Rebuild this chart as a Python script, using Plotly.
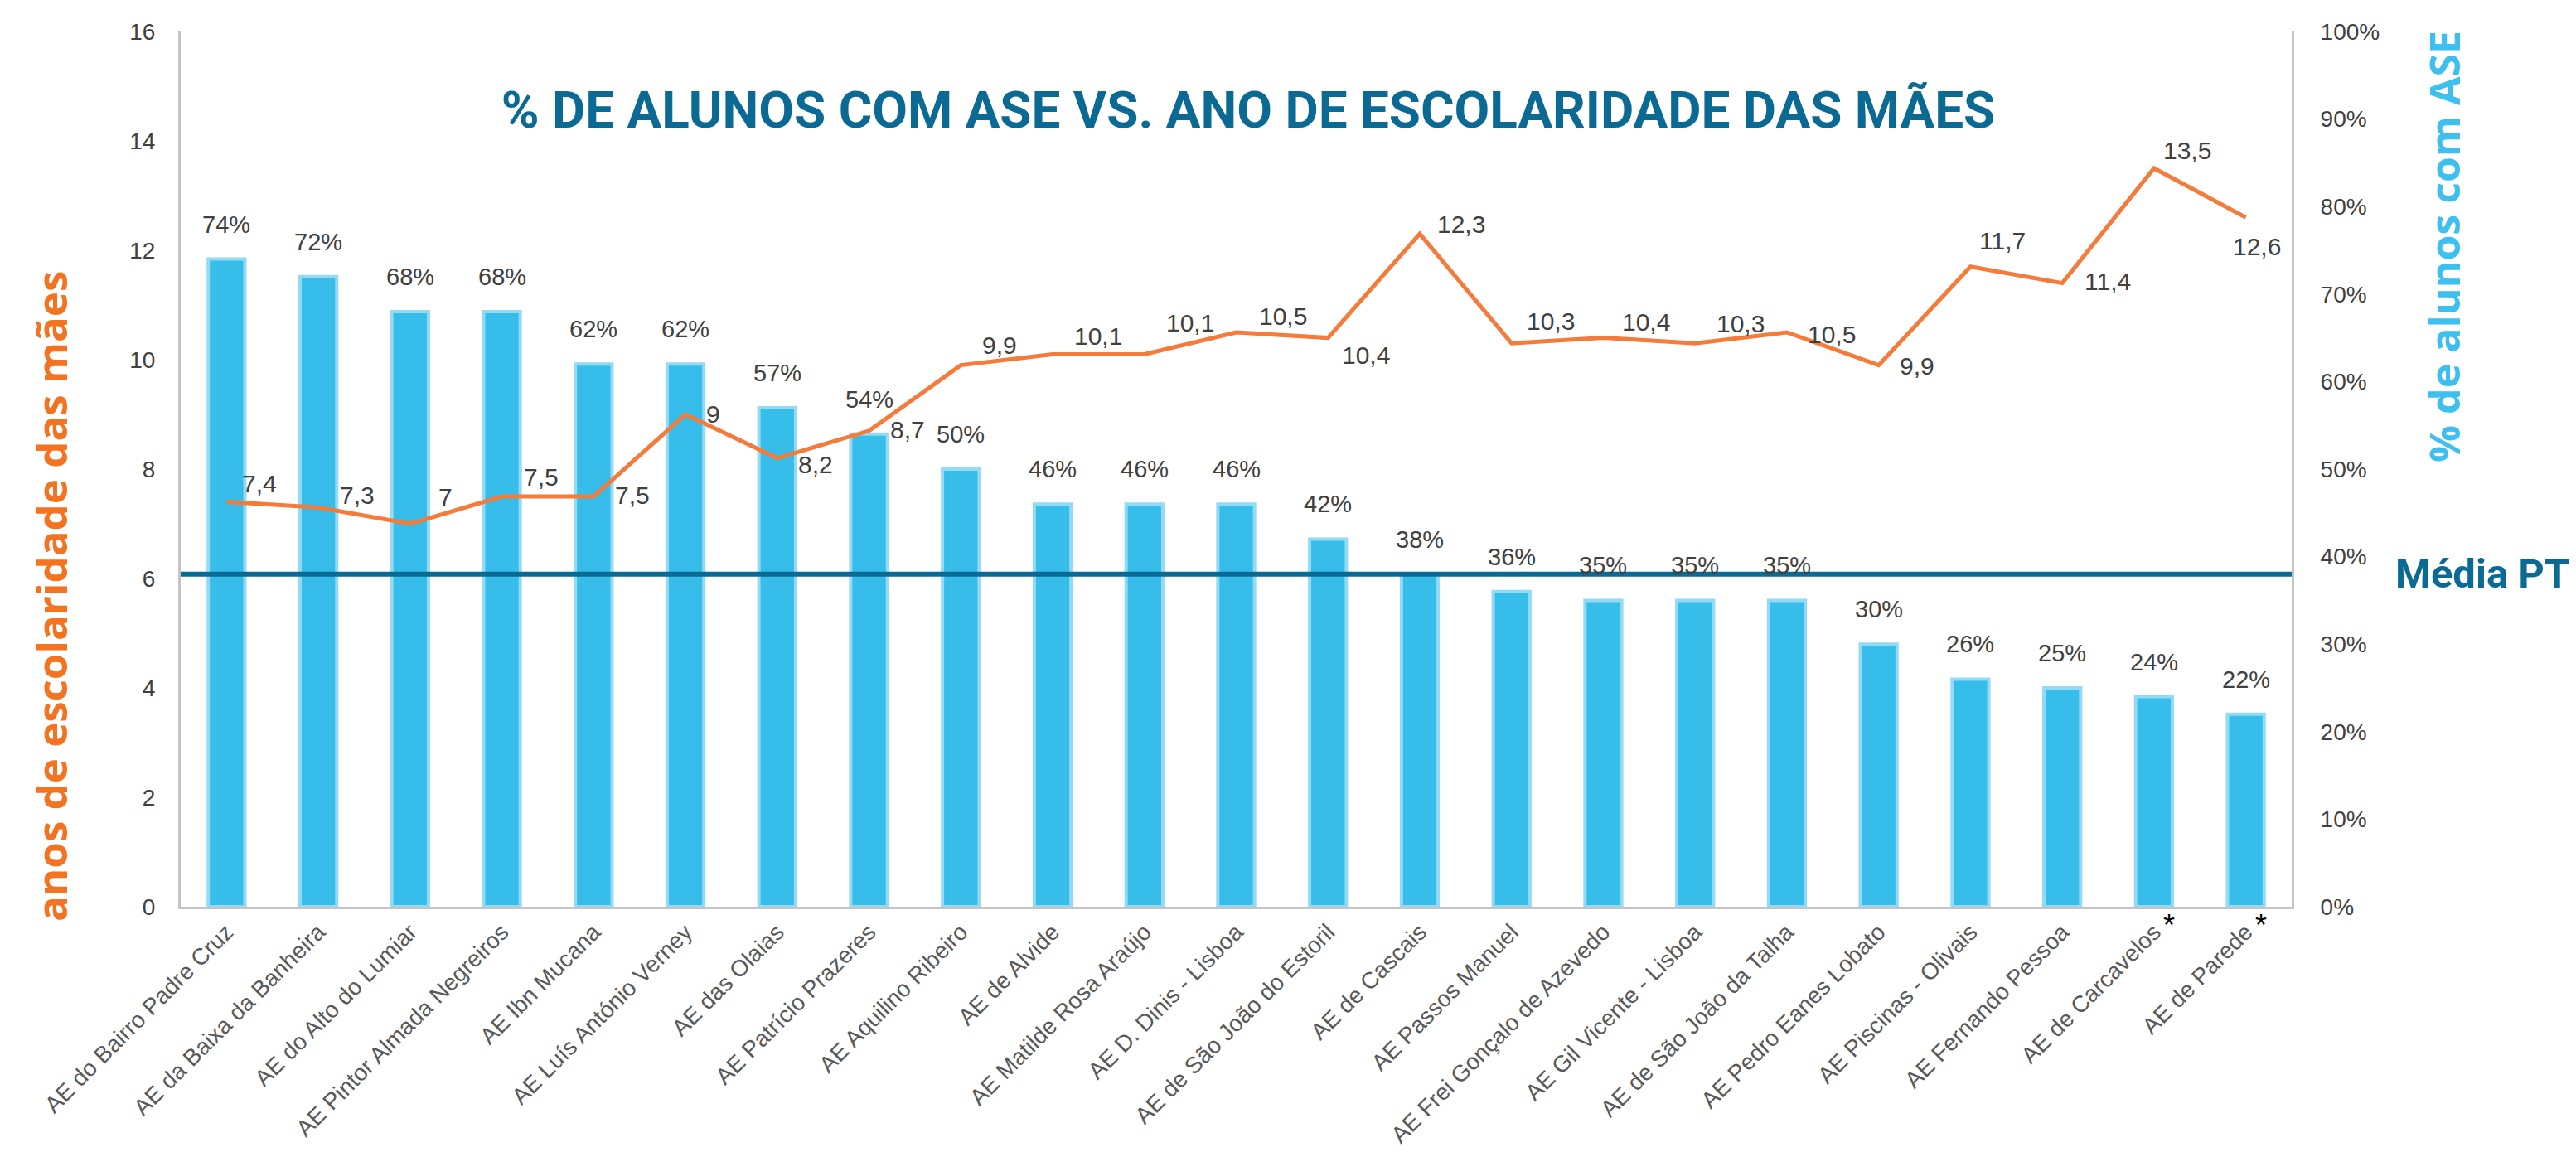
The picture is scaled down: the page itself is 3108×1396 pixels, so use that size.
import plotly.graph_objects as go

# ---------------- data ----------------
escolas = [
    "AE do Bairro Padre Cruz", "AE da Baixa da Banheira", "AE do Alto do Lumiar",
    "AE Pintor Almada Negreiros", "AE Ibn Mucana", "AE Luís António Verney",
    "AE das Olaias", "AE Patrício Prazeres", "AE Aquilino Ribeiro", "AE de Alvide",
    "AE Matilde Rosa Araújo", "AE D. Dinis - Lisboa", "AE de São João do Estoril",
    "AE de Cascais", "AE Passos Manuel", "AE Frei Gonçalo de Azevedo",
    "AE Gil Vicente - Lisboa", "AE de São João da Talha", "AE Pedro Eanes Lobato",
    "AE Piscinas - Olivais", "AE Fernando Pessoa", "AE de Carcavelos", "AE de Parede",
]
pct_ase = [74, 72, 68, 68, 62, 62, 57, 54, 50, 46, 46, 46, 42, 38, 36, 35, 35, 35, 30, 26, 25, 24, 22]
anos_maes = [7.4, 7.3, 7.0, 7.5, 7.5, 9.0, 8.2, 8.7, 9.9, 10.1, 10.1, 10.5, 10.4, 12.3,
             10.3, 10.4, 10.3, 10.5, 9.9, 11.7, 11.4, 13.5, 12.6]
media_pt = 38  # % média nacional
asterisco = ["AE de Carcavelos", "AE de Parede"]

titulo = "% DE ALUNOS COM ASE VS. ANO DE ESCOLARIDADE DAS MÃES"

# ---------------- style ----------------
BAR = "#36BDEA"
BAR_EDGE = "#93DAF5"
ORANGE = "#F47B3A"
DARKBLUE = "#0B6A94"
TXT = "#404040"
NUM_FONT = "Liberation Sans Narrow, Liberation Sans, Arial, sans-serif"
# label offsets (px) of the line value labels relative to their point (dx right, dy up)
line_lbl_off = [(40, 22), (47, 15), (43, 33), (47, 24), (47, 2), (33, 1), (46, -8), (46, 1),
                (47, 24), (55, 22), (55, 38), (56, 20), (46, -21), (50, 12), (47, 27),
                (52, 19), (55, 24), (54, -2), (46, -1), (39, 31), (55, 2), (40, 22), (13, -35)]

W, H = 3108, 1396
L, R, T, B = 210, W - 2757, 30, H - 1086

fig = go.Figure()

fig.add_trace(go.Bar(
    x=escolas, y=[p / 100 for p in pct_ase], yaxis="y",
    marker=dict(color=BAR, line=dict(color=BAR_EDGE, width=4)),
    width=0.4, hoverinfo="skip", showlegend=False,
))

fig.add_trace(go.Scatter(
    x=escolas, y=anos_maes, yaxis="y2", mode="lines",
    line=dict(color=ORANGE, width=5), hoverinfo="skip", showlegend=False,
))

ann = []
for e, p in zip(escolas, pct_ase):
    ann.append(dict(x=e, y=p / 100, xref="x", yref="y", text=f"{p}%", showarrow=False,
                    yanchor="bottom", yshift=24,
                    font=dict(family=NUM_FONT, size=29, color=TXT)))
for e, v, (dx, dy) in zip(escolas, anos_maes, line_lbl_off):
    s = f"{v:g}".replace(".", ",")
    ann.append(dict(x=e, y=v, xref="x", yref="y2", text=s, showarrow=False,
                    xanchor="center", yanchor="middle", xshift=dx, yshift=dy,
                    font=dict(family=NUM_FONT, size=30, color=TXT)))
for e in asterisco:
    ann.append(dict(x=e, y=0, xref="x", yref="y2", text="*", showarrow=False,
                    xanchor="center", yanchor="middle", xshift=18, yshift=-22,
                    font=dict(family="Liberation Sans, Arial", size=36, color="#000000")))

# axis titles / labels
ann.append(dict(x=(53 - L) / (W - L - R), y=(1086 - 712) / (1086 - 30), xref="paper", yref="paper",
                text="<b>anos de escolaridade das mães</b>", textangle=-90, showarrow=False,
                xanchor="center", yanchor="middle",
                font=dict(family="Open Sans, sans-serif", size=51, color="#F47321")))
ann.append(dict(x=(2941 - L) / (W - L - R), y=(1086 - 290) / (1086 - 30), xref="paper", yref="paper",
                text="<b>% de alunos com ASE</b>", textangle=-90, showarrow=False,
                xanchor="center", yanchor="middle",
                font=dict(family="Open Sans, sans-serif", size=50, color="#3DBFEF")))
ann.append(dict(x=(2880 - L) / (W - L - R), y=media_pt / 100, xref="paper", yref="y",
                text="<b>Média PT</b>", showarrow=False, xanchor="left", yanchor="middle",
                font=dict(family="Roboto, sans-serif", size=49, color=DARKBLUE)))

fig.update_layout(
    width=W, height=H,
    margin=dict(l=L, r=R, t=T, b=B, pad=0),
    paper_bgcolor="white", plot_bgcolor="white",
    bargap=0.6,
    title=dict(text=f"<b>{titulo}</b>", x=(1498 - L) / (W - L - R), xref="paper", xanchor="center",
               y=1 - 124 / H, yanchor="middle",
               font=dict(family="Roboto, sans-serif", size=62, color=DARKBLUE)),
    xaxis=dict(type="category", range=[-0.5, len(escolas) - 0.5], showgrid=False,
               showline=True, linecolor="#C4C4C4", linewidth=3, ticks="",
               tickangle=-45, ticklabelstandoff=0,
               tickfont=dict(family="Liberation Sans, Arial, sans-serif", size=28, color="#595959")),
    yaxis=dict(range=[0, 1], side="right", tickformat=".0%", dtick=0.1, showgrid=False,
               zeroline=False, showline=True, linecolor="#C4C4C4", linewidth=3, ticks="",
               ticklabelstandoff=26,
               tickfont=dict(family=NUM_FONT, size=28, color=TXT)),
    yaxis2=dict(range=[0, 16], overlaying="y", side="left", dtick=2, showgrid=False,
                zeroline=False, showline=True, linecolor="#C4C4C4", linewidth=3, ticks="",
                ticklabelstandoff=22,
                tickfont=dict(family=NUM_FONT, size=28, color=TXT)),
    annotations=ann,
    shapes=[dict(type="line", xref="paper", x0=0, x1=1, yref="y", y0=media_pt / 100, y1=media_pt / 100,
                 line=dict(color=DARKBLUE, width=6), layer="above")],
)

fig.write_html("out.html")
